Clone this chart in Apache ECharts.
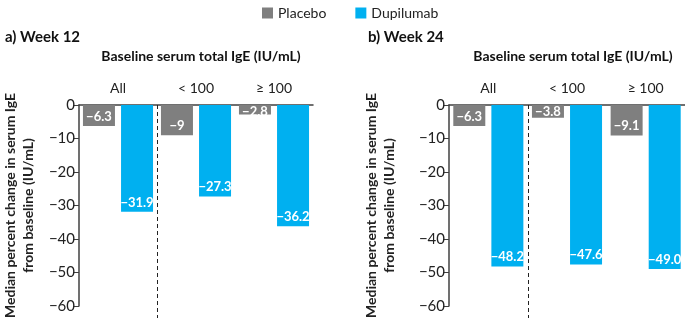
<!DOCTYPE html>
<html>
<head>
<meta charset="utf-8">
<script src="https://cdn.jsdelivr.net/npm/echarts@6/dist/echarts.min.js"></script>
<style>
  html, body { margin: 0; padding: 0; background: #fff; }
  #chart { width: 685px; height: 320px; }
</style>
</head>
<body>
<div id="chart"></div>
<script>
// groups of baseline serum total IgE
const categories = ['All', '< 100', '≥ 100'];
const yTicks = { min: -60, max: 0, step: 10 };

// median percent change, kept as printed in the figure
const placeboWeek12 = ['-6.3', '-9', '-2.8'];
const dupilumabWeek12 = ['-31.9', '-27.3', '-36.2'];
const placeboWeek24 = ['-6.3', '-3.8', '-9.1'];
const dupilumabWeek24 = ['-48.2', '-47.6', '-49.0'];

const FONT = 'Lato';
const GREY = '#7f7f7f';
const BLUE = '#00b0f0';
const minus = s => String(s).replace('-', '\u2212');

function xAxisFor (gridIndex) {
    return {
        type: 'category',
        gridIndex: gridIndex,
        position: 'top',
        data: categories,
        axisLine: { lineStyle: { color: '#404040', width: 1.5 } },
        axisTick: { show: false },
        axisLabel: { margin: 10, color: '#222', fontSize: 14, fontFamily: FONT },
        splitLine: { show: false }
    };
}

function yAxisFor (gridIndex, gap) {
    return {
        type: 'value',
        gridIndex: gridIndex,
        min: yTicks.min,
        max: yTicks.max,
        interval: yTicks.step,
        name: 'Median percent change in serum IgE\nfrom baseline (IU/mL)',
        nameLocation: 'middle',
        nameGap: gap,
        nameTextStyle: { fontFamily: FONT, fontWeight: 'bold', fontSize: 14, color: '#222', lineHeight: 18 },
        axisLine: { show: true, lineStyle: { color: '#404040', width: 1.5 } },
        axisTick: { show: true, length: 6, lineStyle: { color: '#404040' } },
        axisLabel: { margin: 4, color: '#222', fontSize: 15, fontFamily: FONT, formatter: v => minus(v) },
        splitLine: { show: false }
    };
}

function barSeries (name, data, color, idx) {
    return {
        name: name,
        type: 'bar',
        xAxisIndex: idx,
        yAxisIndex: idx,
        // very short bars: label hangs from the zero line instead
        data: data.map(v => Math.abs(parseFloat(v)) < 5
            ? { value: v, label: { position: 'insideTop', distance: 0 } }
            : v),
        barWidth: 32,
        barGap: '19%',
        itemStyle: { color: color },
        label: {
            show: true,
            position: 'insideBottom',
            distance: 3,
            color: '#fff',
            fontWeight: 'bold',
            fontSize: 13,
            fontFamily: FONT,
            formatter: p => minus(p.value)
        }
    };
}

const titleStyle = { fontSize: 15, fontWeight: 'bold', color: '#111', fontFamily: FONT };
const subStyle = { fontSize: 14, fontWeight: 'bold', color: '#111', fontFamily: FONT };

const option = {
    animation: false,
    textStyle: { fontFamily: FONT },
    legend: {
        top: 1,
        left: 257,
        itemWidth: 11,
        itemHeight: 11,
        itemGap: 29,
        icon: 'rect',
        textStyle: { fontSize: 14, color: '#222', fontFamily: FONT },
        data: ['Placebo', 'Dupilumab']
    },
    title: [
        { text: 'a) Week 12', left: 0, top: 25, textStyle: titleStyle },
        { text: 'b) Week 24', left: 363, top: 25, textStyle: titleStyle },
        { text: 'Baseline serum total IgE (IU/mL)', left: 196, top: 44, textAlign: 'center', textStyle: subStyle },
        { text: 'Baseline serum total IgE (IU/mL)', left: 568, top: 44, textAlign: 'center', textStyle: subStyle }
    ],
    grid: [
        { left: 78, right: 372, top: 105, bottom: 9 },
        { left: 449, right: 0, top: 105, bottom: 9 }
    ],
    xAxis: [xAxisFor(0), xAxisFor(1)],
    yAxis: [yAxisFor(0, 42), yAxisFor(1, 51)],
    series: [
        barSeries('Placebo', placeboWeek12, GREY, 0),
        barSeries('Dupilumab', dupilumabWeek12, BLUE, 0),
        barSeries('Placebo', placeboWeek24, GREY, 1),
        barSeries('Dupilumab', dupilumabWeek24, BLUE, 1)
    ]
};

const chart = echarts.init(document.getElementById('chart'));
chart.setOption(option);

// dashed divider between "All" and "< 100" in each panel
const dividers = [0, 1].map(function (i) {
    const a = chart.convertToPixel({ xAxisIndex: i }, categories[0]);
    const b = chart.convertToPixel({ xAxisIndex: i }, categories[1]);
    const top = chart.convertToPixel({ yAxisIndex: i }, yTicks.max);
    const x = Math.round((a + b) / 2) + 0.5;
    return {
        type: 'line',
        shape: { x1: x, y1: top, x2: x, y2: chart.getHeight() - 2 },
        style: { stroke: '#222', lineWidth: 1, lineDash: [4, 3] },
        z: 1
    };
});
chart.setOption({ graphic: dividers });
</script>
</body>
</html>
